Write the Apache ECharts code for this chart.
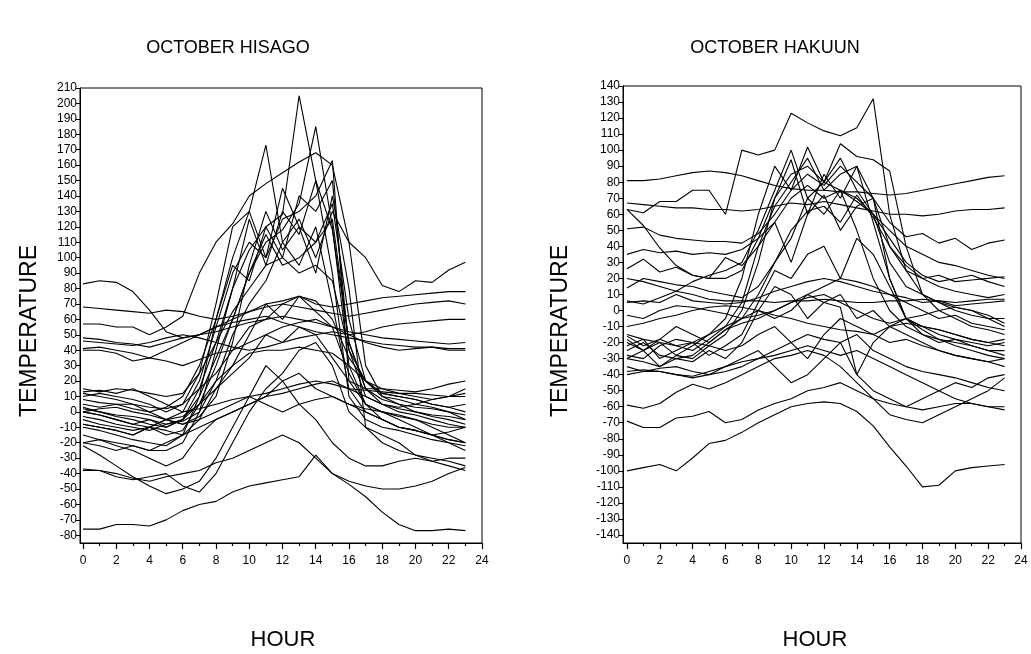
<!DOCTYPE html>
<html>
<head>
<meta charset="utf-8">
<script src="https://cdn.jsdelivr.net/npm/echarts@6/dist/echarts.min.js"></script>
<style>
  html, body { margin: 0; padding: 0; background: #fff; }
  #chart { width: 1031px; height: 654px; }
</style>
</head>
<body>
<div id="chart"></div>
<script>
// Hour of day for every reading (one reading per hour)
const hours = [0, 1, 2, 3, 4, 5, 6, 7, 8, 9, 10, 11, 12, 13, 14, 15, 16, 17, 18, 19, 20, 21, 22, 23];

// Tick labels
const hourTicks = [0, 2, 4, 6, 8, 10, 12, 14, 16, 18, 20, 22, 24];
const hourMinorTicks = [1, 3, 5, 7, 9, 11, 13, 15, 17, 19, 21, 23];
const hisagoTicks = [-80, -70, -60, -50, -40, -30, -20, -10, 0, 10, 20, 30, 40, 50, 60, 70, 80, 90, 100,
  110, 120, 130, 140, 150, 160, 170, 180, 190, 200, 210];
const hakuunTicks = [-140, -130, -120, -110, -100, -90, -80, -70, -60, -50, -40, -30, -20, -10, 0, 10, 20, 30,
  40, 50, 60, 70, 80, 90, 100, 110, 120, 130, 140];

// HISAGO, October: days with a strong midday rise
const hisagoPeakDays = [
  [3, 0, -3, -5, -8, -10, -5, 15, 45, 80, 105, 120, 128, 205, 150, 118, 45, 15, 8, 5, 3, 2, 0, -2],
  [-5, -8, -10, -12, -10, -15, -12, 5, 30, 60, 90, 110, 118, 135, 185, 120, 30, 5, -5, -10, -12, -15, -18, -20],
  [0, 2, 3, 0, -2, -5, 0, 20, 55, 90, 110, 100, 125, 130, 140, 163, 20, 5, 0, -3, -5, -8, -10, -10],
  [-10, -12, -15, -18, -20, -22, -15, 10, 60, 100, 130, 173, 110, 95, 120, 70, 15, 0, -5, -10, -12, -15, -20, -25],
  [57, 57, 55, 55, 50, 55, 62, 90, 110, 122, 140, 148, 155, 162, 168, 160, 110, 100, 82, 78, 85, 84, 92, 97],
  [10, 12, 10, 8, 5, 0, 5, 25, 70, 120, 130, 100, 145, 120, 110, 135, 60, 20, 10, 8, 5, 3, 0, -5],
  [-15, -18, -20, -22, -25, -25, -20, 0, 40, 80, 125, 95, 130, 115, 150, 90, 10, -5, -10, -12, -15, -18, -20, -22],
  [5, 3, 5, 2, 0, 3, 10, 30, 60, 95, 85, 120, 100, 140, 130, 150, 40, 10, 5, 3, 5, 8, 10, 12],
  [-3, -5, -8, -10, -12, -8, -5, 10, 35, 60, 90, 115, 95, 100, 110, 125, 45, 15, 5, 0, -2, -5, -8, -10],
  [15, 13, 15, 14, 12, 10, 12, 25, 45, 65, 80, 95, 100, 90, 95, 85, 40, 20, 15, 12, 10, 8, 10, 15],
  [-20, -22, -25, -22, -25, -20, -15, -5, 15, 30, 50, 70, 60, 75, 65, 55, 25, 5, 0, -5, -10, -15, -18, -20],
  [8, 6, 5, 5, 3, 2, 5, 15, 25, 40, 55, 60, 70, 75, 72, 60, 35, 20, 12, 10, 8, 5, 3, 5],
  [0, -2, -5, -8, -5, -10, -5, 5, 20, 30, 38, 40, 40, 42, 40, 38, 30, 20, 12, 10, 8, 5, 3, 0],
  [12, 10, 8, 5, 0, -5, -3, 5, 15, 25, 35, 50, 45, 55, 50, 35, 20, 15, 15, 14, 13, 15, 18, 20],
  [-8, -10, -12, -15, -10, -5, -8, -3, 10, 45, 95, 130, 105, 120, 90, 140, 80, -10, -20, -25, -28, -30, -32, -35],
  [2, 0, -2, -3, -5, -8, -6, 0, 20, 50, 70, 85, 110, 125, 100, 130, 110, 30, 10, 5, 0, -2, -3, -5]
];

// HISAGO, October: mild days that stay high
const hisagoMildDays = [
  [83, 85, 84, 78, 66, 52, 48, 50, 55, 60, 65, 70, 72, 75, 70, 68, 70, 72, 74, 75, 76, 77, 78, 78],
  [68, 67, 66, 65, 64, 66, 65, 62, 60, 62, 65, 68, 70, 68, 66, 64, 62, 64, 66, 68, 70, 71, 72, 70],
  [48, 47, 45, 44, 42, 45, 48, 50, 52, 55, 58, 60, 62, 60, 58, 55, 52, 50, 48, 47, 46, 45, 44, 45],
  [46, 45, 44, 43, 45, 48, 50, 48, 45, 42, 40, 42, 45, 48, 50, 52, 50, 45, 42, 40, 41, 42, 40, 40],
  [40, 40, 38, 33, 35, 33, 30, 34, 38, 40, 45, 50, 55, 58, 60, 55, 50, 52, 55, 57, 58, 59, 60, 60],
  [41, 42, 40, 38, 35, 40, 45, 50, 55, 58, 60, 62, 58, 55, 52, 50, 48, 46, 44, 43, 42, 42, 41, 41]
];

// HISAGO, October: cool days
const hisagoColdDays = [
  [13, 14, 12, 15, 10, 5, 0, 2, 5, 8, 10, 12, 15, 18, 20, 18, 15, 14, 13, 12, 12, 11, 10, 10],
  [-8, -10, -12, -15, -10, -5, -8, -5, 0, 5, 10, 5, 0, 5, 8, 10, 5, 0, -5, -10, -12, -15, -13, -10],
  [0, -2, -5, -8, -10, -12, -15, -10, -5, 0, 5, 10, 20, 25, 15, 10, 5, 2, 0, -2, -5, -10, -15, -20],
  [-20, -18, -22, -25, -30, -35, -30, -15, -5, 0, 5, 10, 12, 15, 18, 20, 15, 10, 5, 2, 0, -3, -5, -8],
  [-38, -38, -40, -43, -45, -42, -40, -38, -33, -30, -25, -20, -15, -20, -30, -40, -45, -48, -50, -50, -48, -45, -40, -36],
  [-22, -28, -35, -42, -48, -53, -50, -45, -30, -10, 10, 30, 20, 5, -5, -20, -30, -35, -35, -32, -30, -32, -35, -38],
  [-37, -38, -42, -44, -42, -40, -48, -52, -40, -20, 0, 15, 25, 40, 45, 30, 0, -10, -15, -20, -28, -32, -30, -30],
  [-76, -76, -73, -73, -74, -70, -64, -60, -58, -52, -48, -46, -44, -42, -28, -40, -47, -55, -65, -73, -77, -77, -76, -77]
];

// HAKUUN, October: days with a strong midday rise
const hakuunPeakDays = [
  [63, 61, 68, 68, 75, 75, 60, 100, 97, 100, 123, 117, 112, 109, 114, 132, 60, 25, 10, 5, 2, 0, -3, -8],
  [63, 53, 39, 28, 22, 20, 20, 25, 45, 70, 85, 90, 80, 75, 70, 60, 45, 30, 22, 18, 20, 22, 18, 15],
  [51, 52, 47, 45, 44, 43, 43, 42, 48, 60, 75, 85, 78, 90, 80, 70, 55, 46, 48, 42, 45, 38, 42, 44],
  [35, 38, 36, 37, 35, 36, 35, 38, 45, 55, 70, 78, 70, 75, 68, 60, 50, 40, 35, 30, 28, 25, 22, 20],
  [26, 32, 24, 27, 22, 20, 33, 28, 40, 65, 80, 95, 75, 85, 90, 70, 40, 25, 20, 15, 12, 10, 8, 10],
  [20, 18, 15, 12, 18, 22, 25, 30, 50, 75, 100, 70, 80, 95, 75, 60, 30, 15, 10, 5, 0, -3, -5, -5],
  [14, 20, 18, 16, 15, 12, 10, 8, 15, 30, 50, 62, 65, 55, 72, 58, 40, 28, 20, 22, 18, 19, 20, 21],
  [-16, -22, -18, -10, -15, -20, -12, -5, 10, 30, 45, 70, 60, 75, 50, 20, 0, -10, -15, -18, -20, -22, -25, -28],
  [-20, -25, -18, -22, -25, -18, -10, 5, 40, 55, 30, 60, 72, 50, 65, 70, 20, -5, -10, -12, -15, -18, -20, -22],
  [-22, -18, -30, -25, -20, -28, -22, -15, 5, 25, 20, 35, 40, 20, 45, 35, 15, -5, -12, -18, -22, -25, -28, -30],
  [-18, -25, -20, -28, -22, -15, -5, 20, 60, 90, 75, 102, 80, 104, 96, 94, 87, 40, 10, 0, -5, -10, -12, -15],
  [-30, -25, -35, -28, -30, -22, -15, 0, 30, 70, 94, 60, 85, 70, 90, 55, 20, -5, -15, -20, -18, -22, -25, -25]
];

// HAKUUN, October: mild days with little daily change
const hakuunMildDays = [
  [81, 81, 82, 84, 86, 87, 86, 84, 81, 78, 76, 75, 75, 74, 74, 73, 72, 73, 75, 77, 79, 81, 83, 84],
  [67, 66, 65, 64, 64, 63, 63, 62, 63, 65, 67, 66, 68, 66, 64, 62, 60, 60, 59, 60, 62, 63, 63, 64],
  [5, 6, 5, 10, 6, 5, 4, 5, 8, 12, 15, 18, 20, 18, 15, 12, 10, 8, 5, 6, 3, 4, 5, 6],
  [6, 4, 8, 12, 10, 7, 6, 6, 6, 5, 6, 6, 7, 6, 5, 5, 6, 6, 7, 6, 5, 6, 7, 7],
  [-3, -5, 0, 3, 2, 0, -2, -5, -3, 0, 5, 10, 15, 20, 18, 15, 10, 5, 0, -5, -3, -8, -10, -12],
  [-10, -8, -5, -3, 0, 2, 3, 2, 0, -3, -5, -8, -10, -12, -13, -15, -10, -8, -10, -15, -18, -20, -22, -20],
  [-25, -20, -28, -30, -32, -25, -30, -20, 0, 15, 10, -5, 5, 10, -5, 0, -10, -15, -20, -25, -28, -30, -32, -35],
  [-28, -30, -22, -18, -20, -22, -25, -22, -15, -10, -20, -30, -15, -5, -10, -15, -20, -18, -22, -25, -28, -30, -32, -30],
  [-30, -32, -35, -30, -28, -20, -12, -8, -5, 0, 5, 8, 10, 5, 0, -5, -8, -5, -10, -12, -15, -18, -20, -18],
  [-15, -18, -20, -22, -20, -15, -10, -5, 0, -5, 0, 10, 5, 2, -40, -20, -10, -5, -3, 0, 2, 0, -5, -10]
];

// HAKUUN, October: cold days
const hakuunColdDays = [
  [-35, -38, -36, -35, -38, -40, -35, -32, -30, -25, -20, -15, -18, -20, -15, -25, -30, -35, -38, -40, -42, -45, -48, -50],
  [-38, -37, -38, -40, -41, -38, -35, -30, -25, -35, -45, -40, -30, -20, -40, -50, -55, -60, -55, -50, -45, -48, -42, -40],
  [-40, -38, -38, -40, -42, -40, -38, -35, -30, -28, -25, -22, -25, -28, -25, -30, -35, -40, -45, -50, -55, -58, -60, -62],
  [-59, -61, -58, -51, -46, -49, -45, -40, -35, -30, -28, -25, -28, -35, -45, -55, -65, -68, -70, -65, -60, -55, -50, -42],
  [-69, -73, -73, -67, -66, -63, -70, -68, -62, -58, -55, -50, -48, -45, -50, -55, -58, -60, -62, -60, -58, -58, -60, -60],
  [-100, -98, -96, -100, -92, -83, -81, -76, -70, -65, -60, -58, -57, -58, -63, -72, -85, -97, -110, -109, -100, -98, -97, -96]
];

const INK = '#000';
const FONT = 'Liberation Sans, Arial, sans-serif';

function lineSeries(rows, axisIndex) {
  return rows.map(function (row) {
    return {
      type: 'line',
      xAxisIndex: axisIndex,
      yAxisIndex: axisIndex,
      data: hours.map(function (h, i) { return [h, row[i]]; }),
      showSymbol: false,
      symbol: 'none',
      silent: true,
      lineStyle: { color: INK, width: 1.1 }
    };
  });
}

// Hour axis with labelled ticks every two hours
function hourAxis(gridIndex, min) {
  return {
    type: 'value', gridIndex: gridIndex, min: min, max: 24, position: 'bottom',
    axisLine: { show: true, onZero: false, lineStyle: { color: INK, width: 1 } },
    axisTick: { show: true, length: 6, customValues: hourTicks, lineStyle: { color: INK, width: 1.2 } },
    axisLabel: { show: true, customValues: hourTicks, margin: 12, color: INK, fontSize: 12, fontFamily: FONT },
    splitLine: { show: false }
  };
}

// Short unlabelled ticks on the odd hours
function hourMinorAxis(gridIndex, min) {
  return {
    type: 'value', gridIndex: gridIndex, min: min, max: 24, position: 'bottom',
    axisLine: { show: false, onZero: false },
    axisTick: { show: true, length: 3, customValues: hourMinorTicks, lineStyle: { color: INK, width: 1.2 } },
    axisLabel: { show: false },
    splitLine: { show: false }
  };
}

function tempAxis(gridIndex, min, max, ticks) {
  return {
    type: 'value', gridIndex: gridIndex, min: min, max: max, position: 'left',
    axisLine: { show: true, onZero: false, lineStyle: { color: INK, width: 1 } },
    axisTick: { show: true, length: 4, customValues: ticks, lineStyle: { color: INK } },
    axisLabel: { show: true, customValues: ticks, margin: 3, color: INK, fontSize: 12, fontFamily: FONT },
    splitLine: { show: false }
  };
}

function label(text, x, y, size, rotate) {
  return {
    type: 'text', x: x, y: y, rotation: rotate ? Math.PI / 2 : 0,
    style: { text: text, fill: INK, font: size + 'px ' + FONT, textAlign: 'center', textVerticalAlign: 'middle' }
  };
}

const chart = echarts.init(document.getElementById('chart'), null, { renderer: 'canvas' });
chart.setOption({
  animation: false,
  backgroundColor: '#fff',
  grid: [
    { left: 80, top: 88, width: 402, height: 455, show: true, borderColor: INK, borderWidth: 1, backgroundColor: 'transparent' },
    { left: 623, top: 86, width: 398, height: 457, show: true, borderColor: INK, borderWidth: 1, backgroundColor: 'transparent' }
  ],
  xAxis: [hourAxis(0, -0.18), hourAxis(1, -0.24), hourMinorAxis(0, -0.18), hourMinorAxis(1, -0.24)],
  yAxis: [tempAxis(0, -85, 210, hisagoTicks), tempAxis(1, -145, 140, hakuunTicks)],
  graphic: [
    label('OCTOBER HISAGO', 228, 48, 18, false),
    label('OCTOBER HAKUUN', 775, 48, 18, false),
    label('TEMPERATURE', 30, 331, 23, true),
    label('TEMPERATURE', 561, 331, 23, true),
    label('HOUR', 283, 640, 22, false),
    label('HOUR', 815, 640, 22, false)
  ],
  series: [].concat(
    lineSeries(hisagoPeakDays, 0),
    lineSeries(hisagoMildDays, 0),
    lineSeries(hisagoColdDays, 0),
    lineSeries(hakuunPeakDays, 1),
    lineSeries(hakuunMildDays, 1),
    lineSeries(hakuunColdDays, 1)
  )
});
</script>
</body>
</html>
